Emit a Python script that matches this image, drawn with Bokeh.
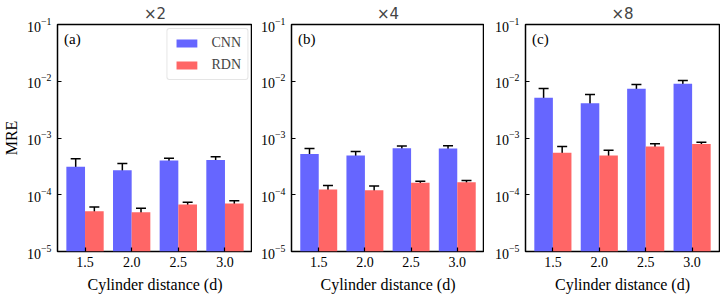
import numpy as np
from bokeh.plotting import figure
from bokeh.layouts import row
from bokeh.models import (ColumnDataSource, Range1d, FixedTicker, Whisker, TeeHead,
                          Label, Legend, LegendItem)
from bokeh.embed import file_html
from bokeh.resources import INLINE

categories = ["1.5", "2.0", "2.5", "3.0"]
titles = ["\u00d72", "\u00d74", "\u00d78"]
panel_tags = ["(a)", "(b)", "(c)"]

# x2
cnn_x2 = [3.1e-4, 2.7e-4, 4.0e-4, 4.1e-4]
cnn_x2_lo = [2.1e-4, 2.0e-4, 3.55e-4, 3.55e-4]
cnn_x2_hi = [4.3e-4, 3.55e-4, 4.4e-4, 4.65e-4]
rdn_x2 = [5.1e-5, 4.9e-5, 6.75e-5, 7.0e-5]
rdn_x2_lo = [4.0e-5, 4.0e-5, 6.2e-5, 6.3e-5]
rdn_x2_hi = [6.1e-5, 5.8e-5, 7.4e-5, 7.8e-5]
# x4
cnn_x4 = [5.25e-4, 4.9e-4, 6.6e-4, 6.55e-4]
cnn_x4_lo = [4.0e-4, 4.1e-4, 6.1e-4, 5.85e-4]
cnn_x4_hi = [6.5e-4, 5.8e-4, 7.2e-4, 7.3e-4]
rdn_x4 = [1.24e-4, 1.2e-4, 1.62e-4, 1.66e-4]
rdn_x4_lo = [1.02e-4, 1.0e-4, 1.5e-4, 1.52e-4]
rdn_x4_hi = [1.46e-4, 1.42e-4, 1.73e-4, 1.78e-4]
# x8
cnn_x8 = [5.1e-3, 4.1e-3, 7.35e-3, 9.0e-3]
cnn_x8_lo = [2.8e-3, 2.45e-3, 6.1e-3, 7.9e-3]
cnn_x8_hi = [7.45e-3, 5.85e-3, 8.75e-3, 1.03e-2]
rdn_x8 = [5.5e-4, 4.9e-4, 7.1e-4, 7.8e-4]
rdn_x8_lo = [4.1e-4, 3.8e-4, 6.45e-4, 7.2e-4]
rdn_x8_hi = [7.1e-4, 6.1e-4, 7.9e-4, 8.45e-4]

panels = [
    (cnn_x2, cnn_x2_lo, cnn_x2_hi, rdn_x2, rdn_x2_lo, rdn_x2_hi),
    (cnn_x4, cnn_x4_lo, cnn_x4_hi, rdn_x4, rdn_x4_lo, rdn_x4_hi),
    (cnn_x8, cnn_x8_lo, cnn_x8_hi, rdn_x8, rdn_x8_lo, rdn_x8_hi),
]

BLUE = "#6666ff"
RED = "#ff6666"
SERIF = "Liberation Serif"
bar_w = 0.4
idx = np.arange(len(categories))
Y0, Y1 = 1e-5, 1e-1

# (frame width, left border, right border)
geom = [(195, 48, 0), (193, 39, 0), (194, 41, 1)]

figs = []
for k, (cv, clo, chi, rv, rlo, rhi) in enumerate(panels):
    fw, bl, br = geom[k]
    p = figure(frame_width=fw, frame_height=227, y_axis_type="log",
               x_range=Range1d(-0.59, 3.59), y_range=Range1d(Y0, Y1),
               output_backend="svg", toolbar_location=None,
               min_border_left=bl, min_border_right=br,
               min_border_top=24, min_border_bottom=40)
    p.title.text = titles[k]
    p.title.align = "center"
    p.title.text_font = "DejaVu Sans"
    p.title.text_font_size = "15px"
    p.title.text_font_style = "normal"
    p.title.standoff = 4
    p.grid.visible = False
    p.outline_line_color = "black"
    p.outline_line_width = 1.5
    p.outline_line_alpha = 1.0

    src_c = ColumnDataSource(dict(x=idx - bar_w / 2, top=cv, lo=clo, hi=chi))
    src_r = ColumnDataSource(dict(x=idx + bar_w / 2, top=rv, lo=rlo, hi=rhi))
    rc = p.vbar(x="x", top="top", bottom=Y0, width=bar_w, source=src_c,
                fill_color=BLUE, line_color=None)
    rr = p.vbar(x="x", top="top", bottom=Y0, width=bar_w, source=src_r,
                fill_color=RED, line_color=None)
    for src in (src_c, src_r):
        wk = Whisker(base="x", upper="hi", lower="lo", source=src,
                     line_color="black", line_width=1.5,
                     upper_head=TeeHead(size=10, line_width=1.5, line_color="black"),
                     lower_head=TeeHead(size=10, line_width=1.5, line_color="black"))
        p.add_layout(wk)

    xa = p.below[0]
    ya = p.left[0]
    xa.ticker = FixedTicker(ticks=[float(i) for i in idx])
    xa.major_label_overrides = {float(i): c for i, c in zip(idx, categories)}
    ya.ticker = FixedTicker(ticks=[1e-5, 1e-4, 1e-3, 1e-2, 1e-1])
    for ax in (xa, ya):
        ax.axis_line_color = None
        ax.major_tick_in = 4
        ax.major_tick_out = 0
        ax.major_tick_line_width = 1.2
        ax.minor_tick_line_color = None
        ax.major_label_text_font = SERIF
        ax.major_label_text_font_size = "14px"
        ax.major_label_text_color = "black"
        ax.axis_label_text_font = SERIF
        ax.axis_label_text_font_size = "16px"
        ax.axis_label_text_font_style = "normal"
        ax.axis_label_text_color = "black"
    xa.major_label_standoff = 5
    ya.major_label_standoff = 6
    xa.axis_label = "Cylinder distance (d)"
    xa.axis_label_standoff = 6
    if k == 0:
        ya.axis_label = "MRE"
        ya.axis_label_standoff = 4

    if k == 0:
        legend = Legend(items=[LegendItem(label="CNN", renderers=[rc]),
                               LegendItem(label="RDN", renderers=[rr])],
                        location="top_right")
        legend.label_text_font = SERIF
        legend.label_text_font_size = "14px"
        legend.glyph_width = 26
        legend.glyph_height = 10
        legend.border_line_color = "#cccccc"
        legend.border_line_width = 1
        legend.border_radius = 3
        legend.margin = 4
        legend.padding = 6
        legend.spacing = 6
        legend.label_standoff = 12
        p.add_layout(legend)

    p.add_layout(Label(x=-0.45, y=5.5e-2, text=panel_tags[k], text_font=SERIF,
                       text_font_size="15px", text_baseline="middle", text_color="black"))
    figs.append(p)

layout = row(*figs)
open("out.html", "w").write(file_html(layout, INLINE))
